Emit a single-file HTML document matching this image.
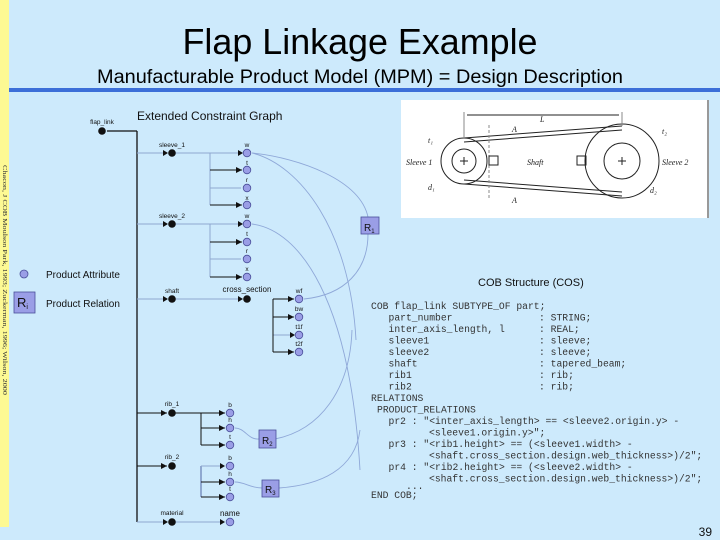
<!DOCTYPE html>
<html><head><meta charset="utf-8"><style>
html,body{margin:0;padding:0;background:#cdeafc;}
svg{display:block;font-family:"Liberation Sans",sans-serif;}
.mono{font-family:"Liberation Mono",monospace;font-size:9.7px;fill:#333;}
</style></head><body>
<svg width="720" height="540" viewBox="0 0 720 540" xmlns="http://www.w3.org/2000/svg">
<defs>
<marker id="ar" markerWidth="6" markerHeight="6" refX="6" refY="3" orient="auto" markerUnits="userSpaceOnUse"><path d="M0,0L6,3L0,6z" fill="#111"/></marker>
</defs>
<rect width="720" height="540" fill="#cdeafc"/>
<rect x="0" y="0" width="9" height="527" fill="#fdf993"/>
<text transform="translate(3,165) rotate(90)" font-size="6" font-family="Liberation Serif,serif" fill="#333" textLength="230" lengthAdjust="spacingAndGlyphs">Chacon, J COB Moulson Park, 1993; Zuckerman, 1996; Wilson, 2000</text>
<rect x="9" y="88" width="711" height="4" fill="#3c6fd8"/>
<text x="360" y="54" font-size="36" text-anchor="middle" textLength="355" lengthAdjust="spacingAndGlyphs" fill="#000">Flap Linkage Example</text>
<text x="360" y="83" font-size="19" text-anchor="middle" textLength="526" lengthAdjust="spacingAndGlyphs" fill="#000">Manufacturable Product Model (MPM) = Design Description</text>
<text x="137" y="120" font-size="12" fill="#111">Extended Constraint Graph</text>

<!-- image -->
<rect x="401" y="100" width="308" height="118" fill="#fff"/>
<line x1="708" y1="100" x2="708" y2="218" stroke="#333"/>
<g stroke="#222" fill="none" stroke-width="1">
<circle cx="464" cy="161" r="23"/><circle cx="464" cy="161" r="12"/>
<circle cx="622" cy="161" r="37"/><circle cx="622" cy="161" r="18"/>
<line x1="464" y1="138" x2="622" y2="126"/><line x1="464" y1="184" x2="622" y2="196"/>
<line x1="464" y1="142" x2="622" y2="130"/><line x1="464" y1="180" x2="622" y2="192"/>
<line x1="464" y1="112" x2="464" y2="138" stroke="#888"/><line x1="622" y1="112" x2="622" y2="126" stroke="#888"/>
<line x1="467" y1="115" x2="619" y2="115"/>
<line x1="489" y1="125" x2="489" y2="200" stroke="#888" stroke-dasharray="3,2"/>
<rect x="489" y="156" width="9" height="9"/><rect x="577" y="156" width="9" height="9"/>
<line x1="460" y1="161" x2="468" y2="161"/><line x1="464" y1="157" x2="464" y2="165"/>
<line x1="618" y1="161" x2="626" y2="161"/><line x1="622" y1="157" x2="622" y2="165"/>
</g>
<g font-family="Liberation Serif,serif" font-style="italic" font-size="8" fill="#222">
<text x="406" y="165">Sleeve 1</text><text x="527" y="165">Shaft</text><text x="662" y="165">Sleeve 2</text>
<text x="540" y="122">L</text><text x="512" y="132">A</text><text x="512" y="203">A</text>
<text x="428" y="143">t₁</text><text x="428" y="190">d₁</text><text x="650" y="193">d₂</text><text x="662" y="134">t₂</text>
</g>

<!-- graph -->
<g stroke="#8fa8d8" fill="none" stroke-width="0.9">
<path d="M252,153 C300,158 360,180 368,217"/>
<path d="M252,153 C300,165 350,230 356,340"/>
<path d="M252,224 C300,230 350,300 360,470"/>
<path d="M304,299 C345,295 368,270 368,234"/>
<path d="M352,330 C350,390 320,430 275,439"/>
<path d="M360,430 C355,470 320,485 279,488"/>
<path d="M235,428 C245,428 248,440 259,439"/>
<path d="M235,482 C245,482 250,488 262,488"/>
</g>
<g stroke="#111" stroke-width="1.3" fill="none">
<line x1="107" y1="131" x2="137" y2="131"/><line x1="137" y1="131" x2="137" y2="522"/>
</g>
<g stroke="#8fa8d0" stroke-width="1" fill="none">
<line x1="137" y1="153" x2="166" y2="153"/><line x1="172" y1="153" x2="241" y2="153"/>
<line x1="210" y1="153" x2="210" y2="205"/>
<line x1="210" y1="188" x2="241" y2="188"/>
<line x1="137" y1="224" x2="166" y2="224"/><line x1="172" y1="224" x2="241" y2="224"/>
<line x1="210" y1="224" x2="210" y2="277"/><line x1="210" y1="259" x2="241" y2="259"/>
<line x1="137" y1="299" x2="166" y2="299"/><line x1="172" y1="299" x2="241" y2="299"/>
<line x1="273" y1="335" x2="293" y2="335"/>
<line x1="201" y1="466" x2="224" y2="466"/>
<line x1="201" y1="466" x2="201" y2="497" stroke-width="2"/>
<line x1="137" y1="522" x2="166" y2="522"/><line x1="172" y1="522" x2="224" y2="522"/>
</g>
<g stroke="#111" stroke-width="1" fill="none" marker-end="url(#ar)">
<line x1="210" y1="170" x2="242" y2="170"/><line x1="210" y1="205" x2="242" y2="205"/>
<line x1="210" y1="242" x2="242" y2="242"/><line x1="210" y1="277" x2="242" y2="277"/>
<line x1="273" y1="299" x2="294" y2="299"/><line x1="273" y1="317" x2="294" y2="317"/><line x1="273" y1="352" x2="294" y2="352"/>
<line x1="137" y1="413" x2="167" y2="413"/><line x1="172" y1="413" x2="225" y2="413"/>
<line x1="201" y1="428" x2="225" y2="428"/><line x1="201" y1="445" x2="225" y2="445"/>
<line x1="137" y1="466" x2="167" y2="466"/>
<line x1="201" y1="482" x2="225" y2="482"/><line x1="201" y1="497" x2="225" y2="497"/>
</g>
<g stroke="#111" stroke-width="1"><line x1="273" y1="299" x2="273" y2="352"/><line x1="201" y1="413" x2="201" y2="445"/></g>
<g fill="#111">
<path d="M163,150L168,153L163,156z"/><path d="M163,221L168,224L163,227z"/><path d="M163,296L168,299L163,302z"/><path d="M163,519L168,522L163,525z"/>
<path d="M238,150L243,153L238,156z"/><path d="M238,221L243,224L238,227z"/><path d="M238,296L243,299L238,302z"/>
<path d="M290,332L295,335L290,338z"/><path d="M220,463L225,466L220,469z"/><path d="M220,519L225,522L220,525z"/>
<circle cx="102" cy="131" r="3.8"/><circle cx="172" cy="153" r="3.8"/><circle cx="172" cy="224" r="3.8"/><circle cx="172" cy="299" r="3.8"/>
<circle cx="247" cy="299" r="3.8"/><circle cx="172" cy="413" r="3.8"/><circle cx="172" cy="466" r="3.8"/><circle cx="172" cy="522" r="3.8"/>
</g>
<g fill="#9a9ee6" stroke="#4a4f9a" stroke-width="0.8">
<circle cx="247" cy="153" r="3.8"/><circle cx="247" cy="170" r="3.8"/><circle cx="247" cy="188" r="3.8"/><circle cx="247" cy="205" r="3.8"/>
<circle cx="247" cy="224" r="3.8"/><circle cx="247" cy="242" r="3.8"/><circle cx="247" cy="259" r="3.8"/><circle cx="247" cy="277" r="3.8"/>
<circle cx="299" cy="299" r="3.8"/><circle cx="299" cy="317" r="3.8"/><circle cx="299" cy="335" r="3.8"/><circle cx="299" cy="352" r="3.8"/>
<circle cx="230" cy="413" r="3.8"/><circle cx="230" cy="428" r="3.8"/><circle cx="230" cy="445" r="3.8"/>
<circle cx="230" cy="466" r="3.8"/><circle cx="230" cy="482" r="3.8"/><circle cx="230" cy="497" r="3.8"/><circle cx="230" cy="522" r="3.8"/>
<circle cx="24" cy="274" r="4"/>
<rect x="14" y="292" width="21" height="21"/>
<rect x="361" y="217" width="18" height="17"/><rect x="259" y="430" width="17" height="18"/><rect x="262" y="480" width="17" height="17"/>
</g>
<g font-size="6.5" fill="#111" text-anchor="middle">
<text x="102" y="124">flap_link</text><text x="172" y="147">sleeve_1</text><text x="172" y="218">sleeve_2</text><text x="172" y="293">shaft</text>
<text x="247" y="147">w</text><text x="247" y="165">t</text><text x="247" y="182">r</text><text x="247" y="200">x</text>
<text x="247" y="218">w</text><text x="247" y="236">t</text><text x="247" y="253">r</text><text x="247" y="271">x</text>
<text x="247" y="292" font-size="8">cross_section</text>
<text x="299" y="293">wf</text><text x="299" y="311">bw</text><text x="299" y="329">t1f</text><text x="299" y="346">t2f</text>
<text x="172" y="406">rib_1</text><text x="172" y="459">rib_2</text><text x="172" y="515">material</text>
<text x="230" y="407">b</text><text x="230" y="422">h</text><text x="230" y="439">t</text>
<text x="230" y="460">b</text><text x="230" y="476">h</text><text x="230" y="491">t</text><text x="230" y="516" font-size="8">name</text>
</g>
<g font-size="10" fill="#111">
<text x="364" y="231">R<tspan font-size="6" dy="2">1</tspan></text>
<text x="262" y="444">R<tspan font-size="6" dy="2">2</tspan></text>
<text x="265" y="493">R<tspan font-size="6" dy="2">3</tspan></text>
<text x="17" y="307" font-size="13">R<tspan font-size="7" dy="2">i</tspan></text>
</g>
<text x="46" y="278" font-size="10" fill="#111">Product Attribute</text>
<text x="46" y="307" font-size="10" fill="#111">Product Relation</text>
<text x="478" y="286" font-size="11" fill="#111">COB Structure (COS)</text>
<g class="mono">
<text x="371" y="309">COB flap_link SUBTYPE_OF part;</text>
<text x="388.5" y="320.5">part_number</text><text x="539" y="320.5">: STRING;</text>
<text x="388.5" y="332">inter_axis_length, l</text><text x="539" y="332">: REAL;</text>
<text x="388.5" y="343.5">sleeve1</text><text x="539" y="343.5">: sleeve;</text>
<text x="388.5" y="355">sleeve2</text><text x="539" y="355">: sleeve;</text>
<text x="388.5" y="366.5">shaft</text><text x="539" y="366.5">: tapered_beam;</text>
<text x="388.5" y="378">rib1</text><text x="539" y="378">: rib;</text>
<text x="388.5" y="389.5">rib2</text><text x="539" y="389.5">: rib;</text>
<text x="371" y="401">RELATIONS</text>
<text x="377" y="412.5">PRODUCT_RELATIONS</text>
<text x="388.5" y="424">pr2 : "&lt;inter_axis_length&gt; == &lt;sleeve2.origin.y&gt; -</text>
<text x="429" y="435.5">&lt;sleeve1.origin.y&gt;";</text>
<text x="388.5" y="447">pr3 : "&lt;rib1.height&gt; == (&lt;sleeve1.width&gt; -</text>
<text x="429" y="458.5">&lt;shaft.cross_section.design.web_thickness&gt;)/2";</text>
<text x="388.5" y="470">pr4 : "&lt;rib2.height&gt; == (&lt;sleeve2.width&gt; -</text>
<text x="429" y="481.5">&lt;shaft.cross_section.design.web_thickness&gt;)/2";</text>
<text x="406" y="489">...</text>
<text x="371" y="498">END COB;</text>
</g>
<text x="712" y="536" font-size="12" fill="#111" text-anchor="end">39</text>
</svg>
</body></html>
